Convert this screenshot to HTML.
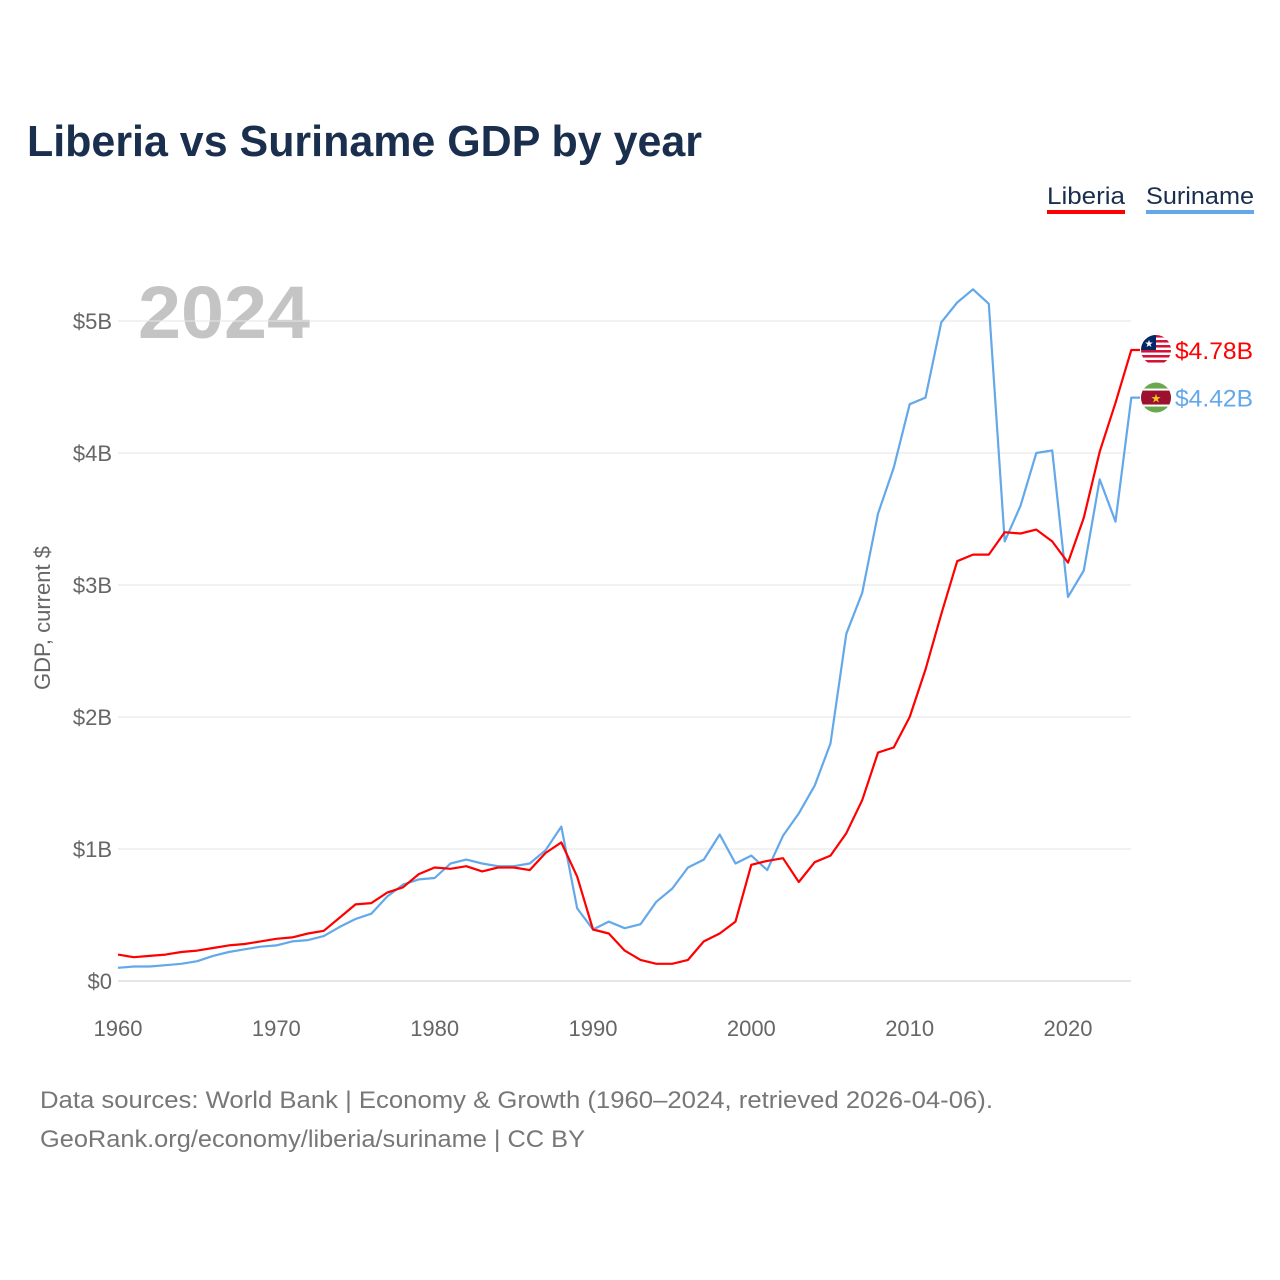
<!DOCTYPE html>
<html><head><meta charset="utf-8"><style>
html,body{margin:0;padding:0;background:#fff;}
body{width:1280px;height:1280px;position:relative;font-family:"Liberation Sans",sans-serif;overflow:hidden;}
</style></head><body>
<svg id="chart" width="1280" height="1280" xmlns="http://www.w3.org/2000/svg" style="position:absolute;left:0;top:0">
<defs>
<clipPath id="c1"><circle cx="1156" cy="349" r="15"/></clipPath>
<clipPath id="c2"><circle cx="1156" cy="397" r="15"/></clipPath>
</defs>
<text x="27" y="156" font-size="44" font-weight="bold" fill="#1a2e4d" textLength="675" lengthAdjust="spacingAndGlyphs">Liberia vs Suriname GDP by year</text>
<g><text x="1047" y="204" font-size="24" fill="#1a2e4d" textLength="78" lengthAdjust="spacingAndGlyphs">Liberia</text><rect x="1047" y="210" width="78" height="4" fill="#ff0000"/></g>
<g><text x="1146" y="204" font-size="24" fill="#1a2e4d" textLength="108" lengthAdjust="spacingAndGlyphs">Suriname</text><rect x="1146" y="210" width="108" height="4" fill="#63a8ea"/></g>
<text x="138" y="338" font-size="74" font-weight="bold" fill="#c4c4c4" textLength="172" lengthAdjust="spacingAndGlyphs">2024</text>
<text transform="translate(50,618) rotate(-90)" text-anchor="middle" font-size="22" fill="#666">GDP, current $</text>
<g id="grid"></g><g id="xticks"></g><g id="lines"></g><g id="ends"></g>
<text x="40" y="1108" font-size="24" fill="#777" textLength="953" lengthAdjust="spacingAndGlyphs">Data sources: World Bank | Economy &amp; Growth (1960–2024, retrieved 2026-04-06).</text>
<text x="40" y="1147" font-size="24" fill="#777" textLength="545" lengthAdjust="spacingAndGlyphs">GeoRank.org/economy/liberia/suriname | CC BY</text>
</svg>
<script>
const years=[];for(let y=1960;y<=2024;y++)years.push(y);
const liberia=[0.20,0.18,0.19,0.20,0.22,0.23,0.25,0.27,0.28,0.30,0.32,0.33,0.36,0.38,0.48,0.58,0.59,0.67,0.71,0.81,0.86,0.85,0.87,0.83,0.86,0.86,0.84,0.97,1.05,0.79,0.39,0.36,0.23,0.16,0.13,0.13,0.16,0.30,0.36,0.45,0.88,0.91,0.93,0.75,0.90,0.95,1.12,1.37,1.73,1.77,2.00,2.36,2.78,3.18,3.23,3.23,3.40,3.39,3.42,3.33,3.17,3.51,4.01,4.38,4.78];
const suriname=[0.10,0.11,0.11,0.12,0.13,0.15,0.19,0.22,0.24,0.26,0.27,0.30,0.31,0.34,0.41,0.47,0.51,0.64,0.73,0.77,0.78,0.89,0.92,0.89,0.87,0.87,0.89,0.99,1.17,0.55,0.39,0.45,0.40,0.43,0.60,0.70,0.86,0.92,1.11,0.89,0.95,0.84,1.10,1.27,1.48,1.80,2.63,2.94,3.54,3.89,4.37,4.42,4.99,5.14,5.24,5.13,3.33,3.60,4.00,4.02,2.91,3.11,3.80,3.48,4.42];
const yTicks=[0,1,2,3,4,5];
const yTickLabels=["$0","$1B","$2B","$3B","$4B","$5B"];
const xTicks=[1960,1970,1980,1990,2000,2010,2020];
const NS="http://www.w3.org/2000/svg";
const X=y=>118+(y-1960)*(950/60);
const Y=v=>981-v*132;
function mk(t,a,p){const e=document.createElementNS(NS,t);for(const k in a)e.setAttribute(k,a[k]);p.appendChild(e);return e;}
const grid=document.getElementById('grid');
yTicks.forEach((v,i)=>{
 const l=mk('line',{x1:118,x2:1131,y1:Y(v),y2:Y(v),stroke:v===0?'#ccc':'#e6e6e6','stroke-width':1},grid);
 
 
 const t=mk('text',{x:112,y:Y(v)+8,'text-anchor':'end','font-size':22,fill:'#666'},grid);
 t.textContent=yTickLabels[i];
 
 
});
const xt=document.getElementById('xticks');
xTicks.forEach(y=>{
 const t=mk('text',{x:X(y),y:1036,'text-anchor':'middle','font-size':22,fill:'#666'},xt);
 t.textContent=y;
 
 
});
const lg=document.getElementById('lines');
function line(vals,color,name){
 let d=vals.map((v,i)=>(i?'L':'M')+X(years[i]).toFixed(1)+','+Y(v).toFixed(1)).join('');
 d+='L1140,'+Y(vals[vals.length-1]).toFixed(1);
 const p=mk('path',{d:d,fill:'none',stroke:color,'stroke-width':2.2,'stroke-linejoin':'round'},lg);
 
 
}
line(suriname,'#63a8ea','suriname-line');
line(liberia,'#ff0000','liberia-line');
const ends=document.getElementById('ends');
function endLabel(v,color,name,flag){
 const y=Y(v);
 const g=mk('g',{},ends);
 
 
 const f=mk('g',{'clip-path':flag==='lr'?'url(#c1)':'url(#c2)',transform:'translate(0,'+(y-(flag==='lr'?349:397))+')'},g);
 const cy=flag==='lr'?349:397;
 if(flag==='lr'){
  mk('rect',{x:1141,y:cy-15,width:30,height:30,fill:'#fff'},f);
  for(let i=0;i<6;i++)mk('rect',{x:1141,y:cy-15+i*5,width:30,height:2.5,fill:'#d21034'},f);
  mk('rect',{x:1141,y:cy-15,width:15,height:15,fill:'#002868'},f);
  mk('text',{x:1149,y:cy-3,'font-size':10,fill:'#fff','text-anchor':'middle'},f).textContent='★';
 }else{
  mk('rect',{x:1141,y:cy-15,width:30,height:30,fill:'#6aa84f'},f);
  mk('rect',{x:1141,y:cy-7,width:30,height:14,fill:'#9e1030'},f);
  mk('rect',{x:1141,y:cy-9,width:30,height:2,fill:'#fff'},f);
  mk('rect',{x:1141,y:cy+7,width:30,height:2,fill:'#fff'},f);
  mk('text',{x:1156,y:cy+5,'font-size':12,fill:'#ecc81d','text-anchor':'middle'},f).textContent='★';
 }
 const t=mk('text',{x:1175,y:y+9,'font-size':24,fill:color,textLength:78,lengthAdjust:'spacingAndGlyphs'},g);
 t.textContent='$'+v.toFixed(2)+'B';
}
endLabel(liberia[liberia.length-1],'#ff0000','liberia-end-label','lr');
endLabel(suriname[suriname.length-1],'#63a8ea','suriname-end-label','sr');
</script>
</body></html>
